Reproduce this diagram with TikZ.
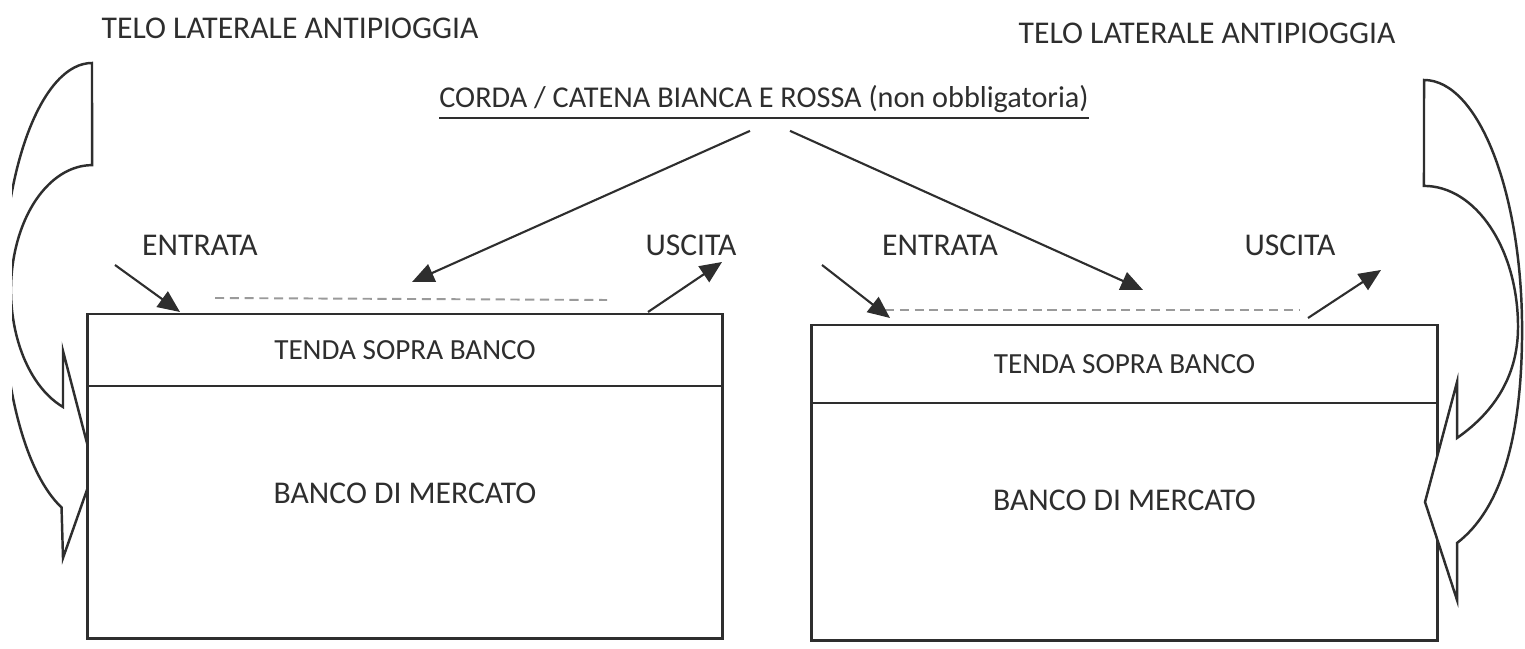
\documentclass[tikz,border=0pt]{standalone}
\usepackage{fontspec}
\setmainfont{Carlito}
\usetikzlibrary{arrows.meta,positioning}
\definecolor{inkgray}{HTML}{2E2E2E}
\definecolor{dashgray}{HTML}{9A9A9A}
\tikzset{
    %Define standard arrow tip
    >={Triangle[length=2.2mm,width=1.9mm]},
    pointer/.style={
      ->,
      draw=inkgray, line width=0.6pt},
    telo/.style={
      draw=inkgray, line width=0.7pt,
      fill=white, line join=miter},
    tenda/.style={
      rectangle,
      draw=inkgray, line width=0.8pt,
      fill=white, outer sep=0pt,
      text=inkgray,
      font=\fontsize{8.3}{10}\selectfont,
      text centered},
    banco/.style={tenda},
    lbl/.style={
      inner sep=0pt,
      text=inkgray,
      font=\fontsize{8.6}{10}\selectfont},
    biglbl/.style={lbl,
      font=\fontsize{9}{11}\selectfont},
    corda/.style={
      draw=dashgray, line width=0.55pt,
      dash pattern=on 2.6pt off 1.6pt}
}

\begin{document}
\begin{tikzpicture}[x=0.01cm, y=0.01cm]
    \useasboundingbox (0,0) rectangle (1525,649);
    % telo laterale sinistro
    \begin{scope}
      \clip (12,0) rectangle (1525,649);
      \draw [telo] (92,586)
        arc[start angle=90, end angle=250, x radius=0.89cm, y radius=2.29cm]
        -- (63,91) -- (94,179) -- (63,298) -- (63,242)
        arc[start angle=249, end angle=90, x radius=0.81cm, y radius=1.25cm]
        -- cycle;
    \end{scope}

    % banco sinistro
    \node (tendaL) [tenda, minimum width=6.34cm, minimum height=0.72cm]
          at (405,299) {TENDA SOPRA BANCO};
    \node (bancoL) [banco, minimum width=6.34cm, minimum height=2.52cm]
          [below=0pt of tendaL] {};
    \node (bancoLtxt) [biglbl] at ([yshift=-1.07cm]bancoL.north)
          {BANCO DI MERCATO};

    % banco destro
    \node (tendaR) [tenda, minimum width=6.25cm, minimum height=0.78cm]
          at (1124.5,285) {TENDA SOPRA BANCO};
    \node (bancoR) [banco, minimum width=6.25cm, minimum height=2.37cm]
          [below=0pt of tendaR] {};
    \node (bancoRtxt) [biglbl] at ([yshift=-0.97cm]bancoR.north)
          {BANCO DI MERCATO};

    % telo laterale destro
    \draw [telo] (1424,569)
      arc[start angle=90, end angle=0, x radius=0.98cm, y radius=2.50cm]
      .. controls (1522,209) and (1500,139) .. (1457,106)
      -- (1457,49) -- (1425,147) -- (1457,267) -- (1457,211)
      .. controls (1490,234) and (1518,269) .. (1518,322)
      arc[start angle=0, end angle=90, x radius=0.94cm, y radius=1.41cm]
      -- cycle;

    % scritte
    \node (teloL) [biglbl] at (290,621) {TELO LATERALE ANTIPIOGGIA};
    \node (teloR) [biglbl] at (1207,616) {TELO LATERALE ANTIPIOGGIA};
    \node (corda) [lbl] at (764,546)
          {\underline{CORDA / CATENA BIANCA E ROSSA (non obbligatoria)}};
    \node (entrataL) [biglbl] at (200,404) {ENTRATA};
    \node (uscitaL)  [biglbl] at (691,404) {USCITA};
    \node (entrataR) [biglbl] at (940,404) {ENTRATA};
    \node (uscitaR)  [biglbl] at (1290,404) {USCITA};

    % corde tratteggiate
    \coordinate (cordaL1) at (215,351);
    \coordinate (cordaL2) at (607,349);
    \coordinate (cordaR1) at (885,339);
    \coordinate (cordaR2) at (1300,339);
    \draw [corda] (cordaL1) -- (cordaL2);
    \draw [corda] (cordaR1) -- (cordaR2);

    % frecce
    \coordinate (toL) at (412,367);
    \coordinate (toR) at (1143,359);
    \draw [pointer] ([xshift=-0.14cm,yshift=-0.1cm]corda.south) -- (toL);
    \draw [pointer] ([xshift=0.26cm,yshift=-0.1cm]corda.south) -- (toR);

    \coordinate (inL0) at (115,384);
    \coordinate (inL1) at (180,337);
    \coordinate (outL0) at (648,337);
    \coordinate (outL1) at (722,387);
    \coordinate (inR0) at (822,384);
    \coordinate (inR1) at (890,331);
    \coordinate (outR0) at (1308,331);
    \coordinate (outR1) at (1381,379);
    \draw [pointer] (inL0) -- (inL1);
    \draw [pointer] (outL0) -- (outL1);
    \draw [pointer] (inR0) -- (inR1);
    \draw [pointer] (outR0) -- (outR1);
\end{tikzpicture}
\end{document}
